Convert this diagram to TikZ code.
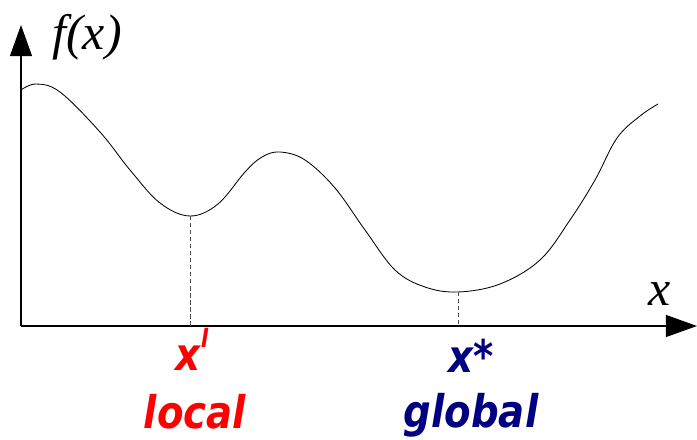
\documentclass[tikz,border=0pt]{standalone}
\usepackage{fontspec}
\setmainfont{Liberation Serif}
\newfontfamily\labelfont[FakeStretch=0.86]{DejaVu Sans}
\usetikzlibrary{arrows.meta, positioning}
\definecolor{locred}{HTML}{FF0000}
\definecolor{globnavy}{HTML}{000080}

\begin{document}
\begin{tikzpicture}[
  x=0.025cm, y=-0.025cm,
  axis/.style={line width=1pt, -{Triangle[length=0.78cm, width=0.55cm]}},
  drop/.style={densely dashed, line width=0.4pt, black!70},
  axislabel/.style={font=\fontsize{35.5}{40}\selectfont\itshape, inner sep=0pt, anchor=base},
  optlabel/.style={font=\labelfont\fontsize{32}{36}\selectfont\bfseries\itshape, inner sep=0pt, anchor=base}
]
  \useasboundingbox (0,0) rectangle (697,440);

  % Axes
  \coordinate (o) at (21,326);
  \coordinate (ytip) at (21,25);
  \coordinate (xtip) at (697,326);
  \draw[axis] (o) -- (ytip);
  \draw[axis] (o) -- (xtip);
  \node[axislabel] (fx) at (87,50) {f(x)};
  \node[axislabel] (xl) at (660,305) {x};

  % Curve
  \draw[line width=0.6pt] plot[smooth, tension=0.6] coordinates {
    (21,90) (36,84) (60,92) (100,132) (130,170) (160,203) (190,216)
    (218,204) (245,172) (262,157) (280,152) (305,160) (335,188)
    (365,230) (395,270) (425,287) (458,292) (500,284) (540,260)
    (570,220) (595,180) (617,138) (640,116) (658,104)};

  % Minima
  \coordinate (mloc) at (190,216);
  \coordinate (mglob) at (458,292);
  \coordinate (floc) at (190,326);
  \coordinate (fglob) at (458,326);
  \draw[drop] (mloc) -- (floc);
  \draw[drop] (mglob) -- (fglob);

  % Labels
  \node[optlabel, locred] (xloc) at (192,370) {x\raisebox{16pt}{\fontsize{18}{20}\selectfont l}};
  \node[optlabel, locred] (loc) at (195,428) {local};
  \node[optlabel, globnavy] (xglob) at (471,372) {x*};
  \node[optlabel, globnavy] (glob) at (471,427) {global};
\end{tikzpicture}
\end{document}
